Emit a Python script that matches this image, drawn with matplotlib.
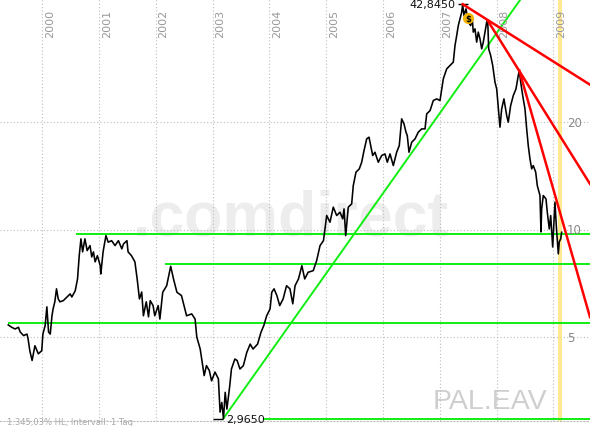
import matplotlib.pyplot as plt
import matplotlib.transforms as mtransforms

# Kursverlauf (Jahr als Dezimalzahl, Kurs in EUR)
years = [1999.40, 1999.46, 1999.52, 1999.58, 1999.61, 1999.67, 1999.73, 1999.75, 1999.78, 1999.82,
         1999.87, 1999.93, 1999.99, 2000.01, 2000.05, 2000.08, 2000.11, 2000.14, 2000.17, 2000.19,
         2000.22, 2000.25, 2000.28, 2000.31, 2000.37, 2000.43, 2000.49, 2000.52, 2000.58, 2000.62,
         2000.65, 2000.68, 2000.71, 2000.75, 2000.79, 2000.84, 2000.87, 2000.90, 2000.93, 2000.97,
         2001.02, 2001.03, 2001.07, 2001.12, 2001.16, 2001.22, 2001.28, 2001.34, 2001.40, 2001.43,
         2001.49, 2001.51, 2001.57, 2001.63, 2001.67, 2001.71, 2001.75, 2001.78, 2001.83, 2001.87,
         2001.90, 2001.95, 2001.98, 2002.04, 2002.07, 2002.12, 2002.19, 2002.26, 2002.31, 2002.37,
         2002.45, 2002.51, 2002.54, 2002.63, 2002.69, 2002.72, 2002.78, 2002.81, 2002.85, 2002.89,
         2002.94, 2002.98, 2003.04, 2003.10, 2003.13, 2003.16, 2003.19, 2003.22, 2003.25, 2003.30,
         2003.33, 2003.39, 2003.43, 2003.48, 2003.54, 2003.60, 2003.66, 2003.71, 2003.79, 2003.85,
         2003.90, 2003.95, 2004.01, 2004.04, 2004.08, 2004.13, 2004.18, 2004.24, 2004.30, 2004.36,
         2004.41, 2004.45, 2004.51, 2004.57, 2004.62, 2004.68, 2004.77, 2004.83, 2004.89, 2004.95,
         2005.007, 2005.065, 2005.123, 2005.183, 2005.241, 2005.289, 2005.312, 2005.342, 2005.387, 2005.447,
         2005.475, 2005.523, 2005.581, 2005.623, 2005.664, 2005.711, 2005.752, 2005.782, 2005.817, 2005.857,
         2005.915, 2005.975, 2006.033, 2006.074, 2006.122, 2006.180, 2006.239, 2006.285, 2006.327, 2006.368,
         2006.403, 2006.426, 2006.456, 2006.504, 2006.562, 2006.620, 2006.680, 2006.738, 2006.768, 2006.827,
         2006.884, 2006.944, 2007.002, 2007.060, 2007.120, 2007.178, 2007.236, 2007.266, 2007.296, 2007.324,
         2007.354, 2007.384, 2007.401, 2007.424, 2007.460, 2007.500, 2007.542, 2007.570, 2007.588, 2007.618,
         2007.648, 2007.676, 2007.706, 2007.736, 2007.764, 2007.794, 2007.824, 2007.842, 2007.859, 2007.894,
         2007.930, 2007.970, 2008.000, 2008.035, 2008.058, 2008.088, 2008.128, 2008.176, 2008.204, 2008.246,
         2008.292, 2008.340, 2008.380, 2008.398, 2008.423, 2008.458, 2008.498, 2008.528, 2008.556, 2008.586,
         2008.616, 2008.644, 2008.687, 2008.715, 2008.762, 2008.780, 2008.792, 2008.820, 2008.868, 2008.891,
         2008.926, 2008.951, 2008.986, 2009.026, 2009.053, 2009.085, 2009.102, 2009.127, 2009.144]
prices = [5.42, 5.34, 5.28, 5.34, 5.18, 5.06, 5.11, 4.95, 4.59, 4.31,
          4.74, 4.50, 4.59, 5.11, 5.40, 6.09, 5.18, 5.11, 5.75, 6.01,
          6.29, 6.84, 6.41, 6.29, 6.34, 6.48, 6.62, 6.49, 6.76, 7.29,
          8.47, 9.44, 8.68, 9.44, 8.75, 9.04, 8.40, 8.68, 8.14, 8.47,
          7.94, 7.53, 8.68, 9.64, 9.24, 9.33, 9.04, 9.33, 8.85, 9.14,
          9.33, 8.68, 8.47, 8.14, 7.29, 6.41, 6.70, 5.75, 6.29, 5.71,
          6.34, 6.14, 5.75, 6.14, 5.63, 6.69, 6.98, 7.91, 7.29, 6.69,
          6.55, 6.01, 5.75, 5.82, 5.63, 5.01, 4.64, 4.31, 3.91, 4.17,
          4.04, 3.78, 4.00, 3.83, 3.09, 3.29, 2.965, 3.51, 3.15, 3.66,
          4.08, 4.35, 4.31, 4.08, 4.17, 4.54, 4.79, 4.64, 4.79, 5.17,
          5.40, 5.75, 6.01, 6.69, 6.84, 6.55, 6.14, 6.41, 6.98, 6.84,
          6.21, 6.98, 7.29, 7.94, 7.29, 7.61, 7.69, 8.20, 9.04, 9.33,
          10.97, 10.51, 11.58, 10.97, 11.21, 10.74, 11.45, 9.64, 11.58, 11.83,
          13.31, 14.51, 14.82, 15.47, 16.67, 17.98, 18.18, 17.22, 16.15, 16.50,
          15.47, 16.15, 16.32, 15.47, 16.32, 15.14, 16.50, 17.22, 20.46, 19.81,
          18.78, 18.37, 16.50, 17.60, 17.98, 18.78, 19.18, 19.18, 21.13, 21.58,
          23.02, 23.27, 23.02, 26.48, 28.24, 28.85, 29.49, 32.82, 35.00, 37.33,
          38.98, 40.70, 42.845, 39.82, 41.58, 38.16, 37.33, 38.98, 35.78, 36.55,
          33.54, 35.78, 34.27, 32.13, 33.54, 35.78, 38.16, 38.56, 32.13, 30.77,
          28.85, 25.92, 24.82, 21.36, 19.39, 21.82, 23.27, 20.90, 20.03, 22.29,
          23.77, 24.82, 27.04, 27.93, 25.92, 23.77, 21.82, 19.18, 17.22, 15.81,
          14.82, 15.14, 14.51, 13.31, 12.48, 9.87, 11.45, 12.48, 12.21, 11.21,
          10.06, 10.97, 8.96, 11.96, 10.06, 8.57, 9.26, 9.44, 9.85]

year_ticks = [2000, 2001, 2002, 2003, 2004, 2005, 2006, 2007, 2008, 2009]
price_ticks = [5, 10, 20]
# Unterstützungslinien und Trendlinien
support_levels = [9.75, 8.03, 5.48, 2.965]
support_start = [2000.593, 2002.16, 1999.396, 2003.88]
trend_up = ([2003.187, 2008.424], [2.965, 44.3])
trend_down = [([2007.401, 2009.643], [42.845, 25.5]),
              ([2007.842, 2009.643], [38.55, 13.45]),
              ([2008.398, 2009.643], [27.93, 5.70])]
high = (2007.401, 42.845)
low = (2003.187, 2.965)

fig = plt.figure(figsize=(5.9, 4.27), dpi=100)
ax = fig.add_axes([0, 5 / 427, 1, 422 / 427])
ax.set_yscale('log')
ax.set_xlim(1999.255, 2009.643)
ax.set_ylim(2.918, 44.3)
ax.set_xticks([])
ax.set_yticks([])
ax.minorticks_off()
for s in ['top', 'left', 'right']:
    ax.spines[s].set_visible(False)
ax.spines['bottom'].set_linestyle((0, (1, 2)))
ax.spines['bottom'].set_color('#bbbbbb')

ax.text(0.493, 0.441, '.comdirect', transform=ax.transAxes, ha='center', va='baseline',
        fontsize=45, fontweight='bold', family='Liberation Sans', color='#ededed', zorder=0)
ax.text(0.734, 0.031, 'PAL.EAV', transform=ax.transAxes, ha='left', va='baseline',
        fontsize=20.5, family='Liberation Sans', color='#cfcfcf', zorder=0)

trans = mtransforms.blended_transform_factory(ax.transData, ax.transAxes)
for yr in year_ticks:
    ax.axvline(yr, color='#bdbdbd', lw=0.8, ls=(0, (1, 2)), zorder=1)
    ax.text(yr + 0.045, 0.976, str(yr), transform=trans, rotation=90, ha='left', va='top',
            fontsize=8, color='#999999')
trans2 = mtransforms.blended_transform_factory(ax.transAxes, ax.transData)
for p in price_ticks:
    ax.axhline(p, color='#bdbdbd', lw=0.8, ls=(0, (1, 2)), zorder=1)
    ax.text(0.961, p, str(p), transform=trans2, ha='left', va='center', fontsize=8.5, color='#888888')

# aktueller Tag
ax.axvspan(2009.088, 2009.158, color='#ffe066', alpha=0.7, lw=0, zorder=1)

ax.hlines(support_levels, support_start, 2009.643, color='#11ee11', lw=1.4, zorder=2)
ax.plot(trend_up[0], trend_up[1], color='#11ee11', lw=1.4, zorder=2)
for xs, ys in trend_down:
    ax.plot(xs, ys, color='#ff0000', lw=1.8, zorder=4)

ax.plot(years, prices, color='black', lw=1.15, zorder=3)

ax.hlines(high[1], high[0] - 0.082, high[0] + 0.094, color='black', lw=1, zorder=3)
ax.hlines(low[1], low[0] - 0.182, low[0], color='black', lw=1, zorder=3)
ax.text(high[0] - 0.135, high[1], '42,8450', ha='right', va='center', fontsize=8, color='#111111')
ax.text(low[0] + 0.042, low[1], '2,9650', ha='left', va='center', fontsize=8, color='#111111')
# Dividende
ax.plot([2007.5], [39.15], 'o', ms=7, color='#f5b400', zorder=5)
ax.text(2007.5, 39.15, '$', ha='center', va='center', fontsize=6, fontweight='bold', zorder=6)

fig.text(7 / 590, 0.0, '1.345,03% HL, Intervall: 1 Tag', ha='left', va='bottom', fontsize=6, color='#aaaaaa')

fig.savefig('out.png')
